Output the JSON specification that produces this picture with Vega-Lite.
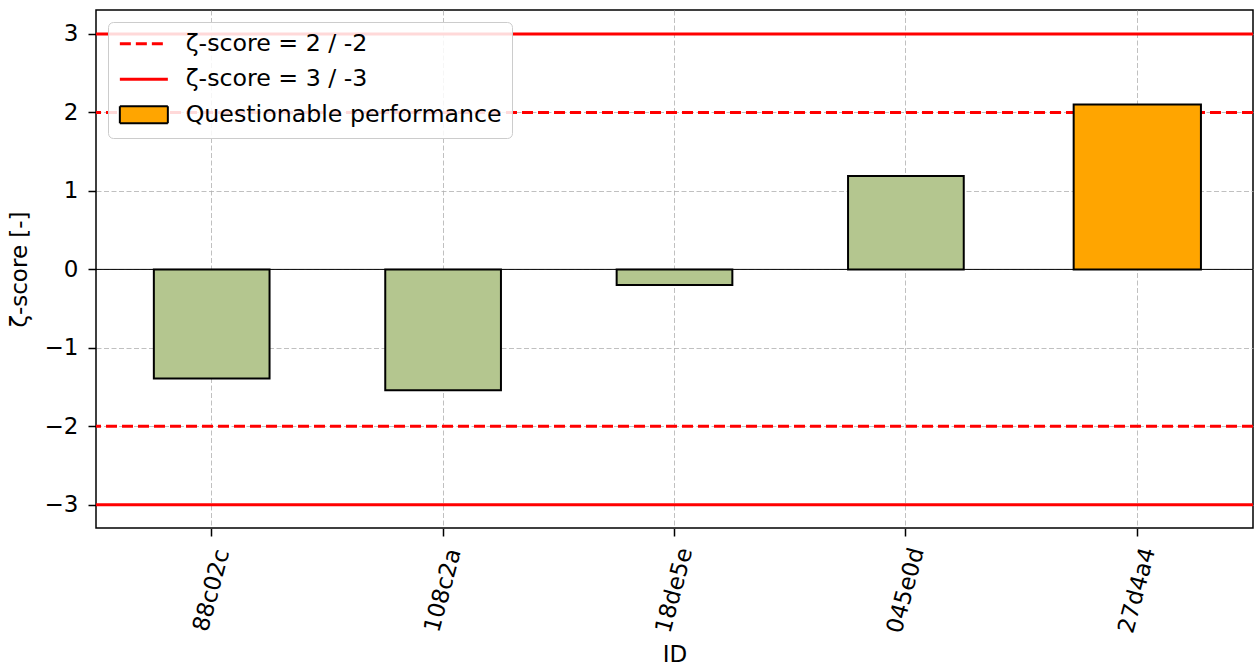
{
  "$schema": "https://vega.github.io/schema/vega-lite/v6.json",
  "width": 1157,
  "height": 518,
  "autosize": {"type": "none"},
  "padding": {"left": 96, "top": 10, "right": 2, "bottom": 142},
  "background": "white",
  "config": {
    "font": "DejaVu Sans",
    "view": {"stroke": "black", "strokeWidth": 1.5},
    "axis": {
      "labelFont": "DejaVu Sans",
      "titleFont": "DejaVu Sans",
      "labelFontSize": 23,
      "titleFontSize": 23,
      "titleFontWeight": "normal",
      "labelColor": "black",
      "titleColor": "black",
      "tickColor": "black",
      "tickWidth": 1.5,
      "tickSize": 8,
      "domain": false,
      "grid": true,
      "gridColor": "#b0b0b0",
      "gridDash": [5, 2.5],
      "gridWidth": 0.8
    }
  },
  "datasets": {
    "scores": [
      {"id": "88c02c", "z": -1.39, "status": "Satisfactory"},
      {"id": "108c2a", "z": -1.54, "status": "Satisfactory"},
      {"id": "18de5e", "z": -0.2, "status": "Satisfactory"},
      {"id": "045e0d", "z": 1.19, "status": "Satisfactory"},
      {"id": "27d4a4", "z": 2.1, "status": "Questionable performance"}
    ],
    "limits": [
      {"z": 2, "kind": "ζ-score = 2 / -2"},
      {"z": -2, "kind": "ζ-score = 2 / -2"},
      {"z": 3, "kind": "ζ-score = 3 / -3"},
      {"z": -3, "kind": "ζ-score = 3 / -3"}
    ]
  },
  "layer": [
    {
      "data": {"name": "limits"},
      "mark": {"type": "rule", "strokeWidth": 3},
      "encoding": {
        "y": {
          "field": "z",
          "type": "quantitative",
          "scale": {"domain": [-3.295, 3.305], "nice": false, "zero": false},
          "axis": {
            "values": [-3, -2, -1, 0, 1, 2, 3],
            "format": "d",
            "title": "ζ-score [-]",
            "labelPadding": 10,
            "titlePadding": 13
          }
        },
        "stroke": {
          "field": "kind",
          "type": "nominal",
          "scale": {
            "domain": ["ζ-score = 2 / -2", "ζ-score = 3 / -3", "Questionable performance"],
            "range": ["red", "red", "black"]
          },
          "legend": {
            "orient": "none",
            "legendX": 12,
            "legendY": 12,
            "title": null,
            "labelFont": "DejaVu Sans",
            "labelFontSize": 23.7,
            "labelColor": "black",
            "labelLimit": 0,
            "symbolSize": 400,
            "labelOffset": 44,
            "rowPadding": 10.5,
            "padding": 10,
            "fillColor": "rgba(255,255,255,0.85)",
            "strokeColor": "#cccccc",
            "cornerRadius": 5,
            "encode": {
              "symbols": {
                "update": {
                  "shape": {"signal": "datum.value === 'Questionable performance' ? 'M-1,-0.85H3.8V0.85H-1Z' : 'M-1,0H3.8'"},
                  "fill": {"signal": "datum.value === 'Questionable performance' ? '#ffa500' : 'transparent'"},
                  "strokeWidth": {"signal": "datum.value === 'Questionable performance' ? 2 : 3"},
                  "size": {"value": 400}
                }
              }
            }
          }
        },
        "strokeDash": {
          "field": "kind",
          "type": "nominal",
          "scale": {
            "domain": ["ζ-score = 2 / -2", "ζ-score = 3 / -3", "Questionable performance"],
            "range": [[11, 5], [1, 0], [1, 0]]
          }
        }
      }
    },
    {
      "data": {"values": [{}]},
      "mark": {"type": "rule", "color": "black", "strokeWidth": 1},
      "encoding": {"y": {"datum": 0, "type": "quantitative"}}
    },
    {
      "data": {"name": "scores"},
      "transform": [{"filter": "datum.status === 'Satisfactory'"}],
      "mark": {"type": "bar", "stroke": "black", "strokeWidth": 2},
      "encoding": {
        "x": {
          "field": "id",
          "type": "nominal",
          "sort": ["88c02c", "108c2a", "18de5e", "045e0d", "27d4a4"],
          "scale": {
            "domain": ["88c02c", "108c2a", "18de5e", "045e0d", "27d4a4"],
            "paddingInner": 0.5,
            "paddingOuter": 0.25
          },
          "axis": {
            "title": "ID",
            "labelAngle": -75,
            "labelAlign": "center",
            "labelBaseline": "middle",
            "labelPadding": 54,
            "bandPosition": 0.5,
            "titlePadding": 8
          }
        },
        "y": {"field": "z", "type": "quantitative"},
        "fill": {
          "field": "status",
          "type": "nominal",
          "scale": {"domain": ["Satisfactory", "Questionable performance"], "range": ["#b4c68f", "#ffa500"]},
          "legend": null
        }
      }
    },
    {
      "data": {"name": "scores"},
      "transform": [{"filter": "datum.status === 'Questionable performance'"}],
      "mark": {"type": "bar", "stroke": "black", "strokeWidth": 2, "width": {"band": 1.1}},
      "encoding": {
        "x": {"field": "id", "type": "nominal"},
        "y": {"field": "z", "type": "quantitative"},
        "fill": {"field": "status", "type": "nominal", "legend": null}
      }
    }
  ]
}
